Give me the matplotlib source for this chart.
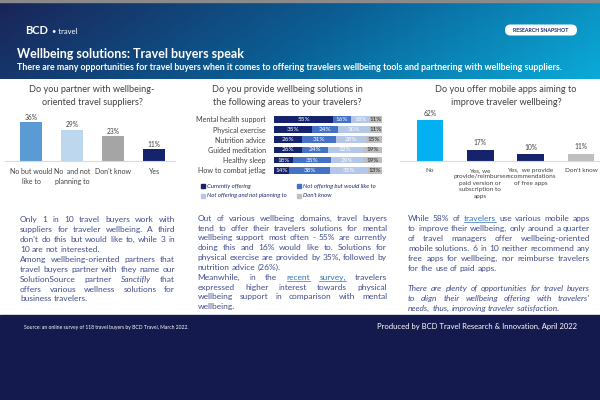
import numpy as np
import matplotlib
matplotlib.use("Agg")
import matplotlib.pyplot as plt
from matplotlib.patches import Rectangle, FancyBboxPatch

plt.rcParams['font.family'] = ['Lato', 'DejaVu Sans']

# ---------------- data ----------------
q1_title = "Do you partner with wellbeing-\noriented travel suppliers?"
q1_cats = ["No but would\nlike to", "No  and not\nplanning to", "Don't know", "Yes"]
q1_vals = [36, 29, 23, 11]

q2_title = "Do you provide wellbeing solutions in\nthe following areas to your travelers?"
q2_cats = ["Mental health support", "Physical exercise", "Nutrition advice",
           "Guided meditation", "Healthy sleep", "How to combat jetlag"]
q2_series = ["Currently offering", "Not offering but would like to",
             "Not offering and not planning to", "Don't know"]
q2_current = [55, 35, 26, 26, 18, 14]
q2_would = [16, 24, 31, 24, 35, 38]
q2_notplan = [18, 30, 28, 32, 29, 35]
q2_dontknow = [11, 11, 15, 19, 19, 13]

q3_title = "Do you offer mobile apps aiming to\nimprove traveler wellbeing?"
q3_cats = ["No", "Yes, we\nprovide/reimburse\npaid version or\nsubscription to\napps",
           "Yes,  we provide\nrecommendations\nof free apps", "Don't know"]
q3_vals = [62, 17, 10, 11]

text1 = [
    ["Only 1 in 10 travel buyers work with",
     "suppliers for traveler wellbeing.  A third",
     "don't do this but would like to, while 3 in",
     "10 are not interested."],
    ["Among wellbeing-oriented partners that",
     "travel buyers partner with they name our",
     "SolutionSource partner _Sanctifly that",
     "offers various wellness solutions for",
     "business travelers."],
]
text2 = [
    ["Out of various wellbeing domains, travel buyers",
     "tend to offer their travelers solutions for mental",
     "wellbeing support most often - 55% are currently",
     "doing this and 16% would like to. Solutions for",
     "physical exercise are provided by 35%, followed by",
     "nutrition advice (26%)."],
    ["Meanwhile, in the ~recent ~survey, travelers",
     "expressed higher interest towards physical",
     "wellbeing support in comparison with mental",
     "wellbeing."],
]
text3 = [
    ["While 58% of ~travelers use various mobile apps",
     "to improve their wellbeing, only around a quarter",
     "of travel managers offer wellbeing-oriented",
     "mobile solutions. 6 in 10 neither recommend any",
     "free apps for wellbeing, nor reimburse travelers",
     "for the use of paid apps."],
]
text3_italic = [
    "There are plenty of opportunities for travel buyers",
    "to align their wellbeing offering with travelers'",
    "needs, thus, improving traveler satisfaction.",
]

NAVY = "#1b2a6b"
TXT = "#414d8c"
GREY = "#404040"
LINK = "#2e75b6"

W, H = 600, 400
fig = plt.figure(figsize=(6, 4), dpi=100)
bg = fig.add_axes([0, 0, 1, 1])
bg.set_xlim(0, W)
bg.set_ylim(H, 0)
bg.axis('off')


def px_axes(x0, y0, x1, y1):
    # axes placed by pixel box (top-left origin)
    return fig.add_axes([x0 / W, 1 - y1 / H, (x1 - x0) / W, (y1 - y0) / H])


# ---------------- header ----------------
grad = np.linspace(0, 1, 256)[None, :] * 0.85 + np.linspace(0, 1, 20)[:, None] * 0.15
cmap = matplotlib.colors.LinearSegmentedColormap.from_list("hdr", ["#1a2559", "#0b5e94", "#0aaad8"])
bg.imshow(grad, cmap=cmap, extent=[0, W, 79, 2], aspect='auto', zorder=0)
bg.add_patch(Rectangle((0, 0), W, 2, color="#8a8a8a", zorder=1))
bg.text(25, 31, "BCD", color="white", fontsize=8, fontweight='bold', va='center', zorder=3)
bg.text(52, 31, "\u2022 travel", color="white", fontsize=5.5, va='center', zorder=3)
bg.add_patch(FancyBboxPatch((505, 24.5), 72, 11, boxstyle="round,pad=0,rounding_size=5.5",
                            fc="white", ec="none", zorder=3))
bg.text(541, 30, "RESEARCH SNAPSHOT", color=NAVY, fontsize=3.8, fontweight='bold',
        ha='center', va='center', zorder=4)
bg.text(17, 54, "Wellbeing solutions: Travel buyers speak", color="white", fontsize=9,
        fontweight='bold', va='center', zorder=3)
bg.text(17, 67.5, "There are many opportunities for travel buyers when it comes to offering "
        "travelers wellbeing tools and partnering with wellbeing suppliers.",
        color="white", fontsize=6.4, fontweight='bold', va='center', zorder=3)

# ---------------- footer ----------------
bg.add_patch(Rectangle((0, 315), W, 85, color="#141a4e", zorder=1))
bg.text(24, 328, "Source: an online survey of 118 travel buyers by BCD Travel, March 2022.",
        color="white", fontsize=3.6, va='center', zorder=3)
bg.text(577, 326.5, "Produced by BCD Travel Research & Innovation, April 2022",
        color="white", fontsize=5.5, ha='right', va='center', zorder=3)

# ---------------- chart titles ----------------
bg.text(92, 96, q1_title, color=GREY, fontsize=6.6, ha='center', va='center', linespacing=1.45)
bg.text(287, 96, q2_title, color=GREY, fontsize=6.6, ha='center', va='center', linespacing=1.45)
bg.text(506, 96, q3_title, color=GREY, fontsize=6.6, ha='center', va='center', linespacing=1.45)

# ---------------- chart 1 ----------------
ax1 = px_axes(5, 100, 175, 161)
ax1.bar(range(4), q1_vals, width=0.52, color=["#5b9bd5", "#bdd7ee", "#a5a5a5", "#14236b"])
ax1.set_xlim(-0.634, 3.51)
ax1.set_ylim(0, 61 / 1.075)
for i, v in enumerate(q1_vals):
    ax1.text(i, v + 4.5, f"{v}%", ha='center', va='center', fontsize=4.8, color=GREY)
ax1.set_xticks(range(4))
ax1.set_xticklabels(q1_cats, fontsize=5.0, color=GREY, linespacing=1.5, va='top')
ax1.tick_params(axis='x', length=0, pad=5)
ax1.set_yticks([])
for s in ['top', 'right', 'left']:
    ax1.spines[s].set_visible(False)
ax1.spines['bottom'].set_color("#d9d9d9")
ax1.patch.set_alpha(0)

# ---------------- chart 2 ----------------
ax2 = px_axes(274, 114, 382, 175)
q2_data = [q2_current, q2_would, q2_notplan, q2_dontknow]
q2_colors = ["#14236b", "#4472c4", "#b4c7e7", "#bfbfbf"]
q2_txt = ["white", "white", "white", "#262626"]
left = np.zeros(len(q2_cats))
for vals, col, tc in zip(q2_data, q2_colors, q2_txt):
    bars = ax2.barh(range(len(q2_cats)), vals, left=left, height=0.64, color=col)
    ax2.bar_label(bars, labels=[f"{v}%" for v in vals], label_type='center',
                  fontsize=4.6, color=tc)
    left += np.array(vals)
ax2.set_xlim(0, 100)
ax2.set_ylim(5.46, -0.52)
ax2.set_yticks(range(len(q2_cats)))
ax2.set_yticklabels(q2_cats, fontsize=5.1, color=GREY)
ax2.tick_params(axis='y', length=0, pad=6)
ax2.set_xticks([])
for s in ax2.spines.values():
    s.set_visible(False)
ax2.patch.set_alpha(0)

# legend
leg_pos = [(203, 186), (299, 186), (203, 195.5), (299, 195.5)]
for (lx, ly), name, col in zip(leg_pos, q2_series, q2_colors):
    bg.add_patch(Rectangle((lx - 2, ly - 2), 4, 4, color=col))
    bg.text(lx + 4, ly, name, fontsize=4.3, style='italic', color=NAVY, va='center')

# ---------------- chart 3 ----------------
ax3 = px_axes(400, 100, 600, 161)
ax3.bar(range(4), q3_vals, width=0.53, color=["#00b0f0", "#14236b", "#14236b", "#bfbfbf"])
ax3.set_xlim(-0.596, 3.38)
ax3.set_ylim(0, 61 / 0.66)
for i, v in enumerate(q3_vals):
    ax3.text(i, v + 10.5, f"{v}%", ha='center', va='center', fontsize=4.8, color=GREY)
ax3.set_xticks(range(4))
ax3.set_xticklabels(q3_cats, fontsize=4.6, color=GREY, linespacing=1.35, va='top')
ax3.tick_params(axis='x', length=0, pad=5)
ax3.set_yticks([])
for s in ['top', 'right', 'left']:
    ax3.spines[s].set_visible(False)
ax3.spines['bottom'].set_color("#d9d9d9")
ax3.patch.set_alpha(0)

# ---------------- justified paragraphs ----------------
renderer = fig.canvas.get_renderer()


def para(paras, x0, x1, y0, dy, size, italic=False):
    y = y0
    for lines in paras:
        for k, line in enumerate(lines):
            words = []
            for w in line.split():
                style = 'italic' if italic else 'normal'
                col, link = TXT, False
                if w.startswith('_'):
                    w, style = w[1:], 'italic'
                if w.startswith('~'):
                    w, col, link = w[1:], LINK, True
                t = bg.text(x0, y, w, fontsize=size, color=col, style=style, va='center')
                words.append((t, link))
            widths = [t.get_window_extent(renderer).width for t, _ in words]
            space = size * 100 / 72 * 0.25
            if k < len(lines) - 1 and len(words) > 1:
                space = (x1 - x0 - sum(widths)) / (len(words) - 1)
            x = x0
            for (t, link), wd in zip(words, widths):
                t.set_x(x)
                if link:
                    bg.plot([x, x + wd], [y + size * 0.62, y + size * 0.62], color=LINK, lw=0.5)
                x += wd + space
            y += dy
    return y


para(text1, 20, 175, 219.3, 9.96, 6.0)
para(text2, 197.5, 387, 218.3, 9.82, 6.0)
yy = para(text3, 408, 590, 218.5, 9.95, 6.0)
para([text3_italic], 408, 590, yy + 9.95, 9.95, 6.0, italic=True)

fig.savefig("out.png", dpi=100)
